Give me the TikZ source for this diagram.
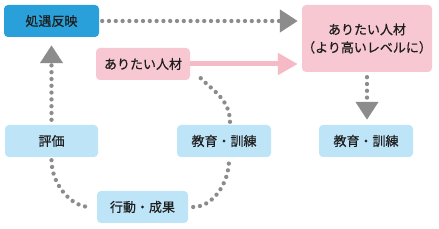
\documentclass[tikz,border=0pt]{standalone}
\usepackage{fontspec}
\setmainfont{Noto Sans CJK JP}[BoldFont=Noto Sans CJK JP, BoldFeatures={FakeBold=0.6}]
\usetikzlibrary{arrows.meta, positioning}
\definecolor{myblue}{RGB}{41,160,218}
\definecolor{mylightblue}{RGB}{190,228,248}
\definecolor{mypink}{RGB}{248,200,210}
\definecolor{mypinkarrow}{RGB}{246,186,198}
\definecolor{mygray}{RGB}{140,140,140}
\definecolor{mydark}{RGB}{30,30,30}
\tikzset{
  box/.style={rectangle, rounded corners=4pt, inner sep=0pt,
    minimum height=32pt, font=\fontsize{13}{18}\selectfont\bfseries,
    text=mydark, align=center},
  bluebox/.style={box, fill=myblue},
  lightbox/.style={box, fill=mylightblue},
  pinkbox/.style={box, fill=mypink},
  dotline/.style={draw=mygray, line width=4.3pt, line cap=round,
    dash pattern=on 0pt off 6.8pt},
  dotarrow/.style={dotline, -{Triangle[length=18pt, width=22pt]}},
  pinkarrow/.style={draw=mypinkarrow, line width=5pt,
    -{Triangle[length=20pt, width=21pt]}}
}

\begin{document}
\begin{tikzpicture}[x=1pt, y=1pt]
  % Canvas
  \fill[white] (0,0) rectangle (439,229);
  \useasboundingbox (0,0) rectangle (439,229);

  % Boxes
  \node[bluebox, minimum width=95pt] (react) at (51.5,208) {処遇反映};
  \node[pinkbox, minimum width=94pt] (want) at (143,165) {ありたい人材};
  \node[pinkbox, minimum width=130pt, minimum height=67pt] (target) at (367,190.5)
    {ありたい人材\\（より高いレベルに）};
  \node[lightbox, minimum width=93pt] (eval) at (51.5,88) {評価};
  \node[lightbox, minimum width=94pt] (edu1) at (224,88) {教育・訓練};
  \node[lightbox, minimum width=94pt] (edu2) at (366,88) {教育・訓練};
  \node[lightbox, minimum width=91pt] (act) at (142.5,22) {行動・成果};

  % Straight arrows
  \draw[dotarrow, shorten <=3pt, shorten >=4pt] (react.east) -- (react.east -| target.west);
  \draw[dotarrow, shorten <=5pt, shorten >=8pt] (eval.north) -- (react.south);
  \draw[dotarrow, shorten <=5pt, shorten >=5pt] (target.south) -- (target.south |- edu2.north);
  \draw[pinkarrow, shorten >=4pt] (want.east) -- (want.east -| target.west);

  % Cycle
  \draw[dotline, shorten <=3pt, shorten >=7pt] (eval.south) to[out=-90, in=180] (act.west);
  \draw[dotline, shorten <=5pt, shorten >=3pt] (act.east) to[out=0, in=-90] ([xshift=5pt]edu1.south);
  \draw[dotline, shorten <=3pt, shorten >=12pt] ([xshift=6pt]edu1.north) to[out=90, in=-55] (want.east);
\end{tikzpicture}
\end{document}
